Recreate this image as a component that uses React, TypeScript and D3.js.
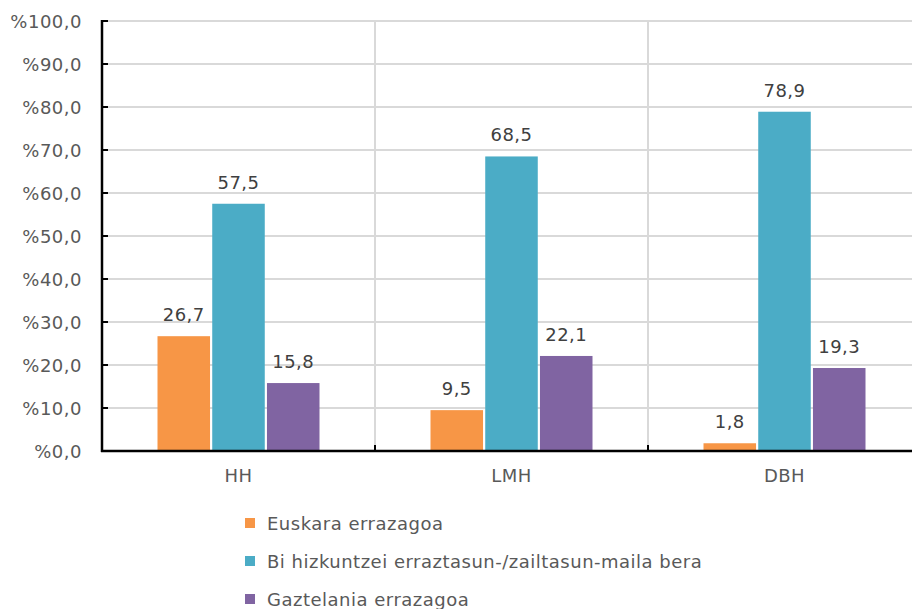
import React from "react";
import * as d3 from "d3";

const categories = ["HH", "LMH", "DBH"];
const seriesNames = [
  "Euskara errazagoa",
  "Bi hizkuntzei erraztasun-/zailtasun-maila bera",
  "Gaztelania errazagoa",
];
const euskara = [26.7, 9.5, 1.8];
const biak = [57.5, 68.5, 78.9];
const gaztelania = [15.8, 22.1, 19.3];
const yTicks = [0, 10, 20, 30, 40, 50, 60, 70, 80, 90, 100];
const colors = ["#F79646", "#4BACC6", "#8064A2"];

export default function App() {
  const W = 912, H = 609;
  const left = 102, right = 921, top = 21, bottom = 451;
  const series = [euskara, biak, gaztelania];
  const x = d3.scaleBand<string>().domain(categories).range([left, right]).paddingInner(0).paddingOuter(0);
  const inner = d3.scaleBand<number>().domain([0, 1, 2]).range([0, 162]).paddingInner(0.04);
  const y = d3.scaleLinear().domain([0, 100]).range([bottom, top]);
  const font = "DejaVu Sans, Verdana, sans-serif";
  const fmt = (v: number) => v.toFixed(1).replace(".", ",");
  const bw = x.bandwidth();
  const ls = 0.5;
  return (
    <svg width={W} height={H} style={{ position: "absolute", left: 0, top: 0, fontFamily: font }}>
      <rect width={W} height={H} fill="#fff" />
      {yTicks.slice(1).map((t) => (
        <line key={"g" + t} x1={left} x2={W} y1={y(t)} y2={y(t)} stroke="#D9D9D9" strokeWidth={2} />
      ))}
      {categories.slice(1).map((c) => (
        <line key={"v" + c} x1={x(c)!} x2={x(c)!} y1={top} y2={bottom} stroke="#D9D9D9" strokeWidth={2} />
      ))}
      {categories.map((c, ci) =>
        series.map((s, si) => {
          const bx = x(c)! + (bw - 162) / 2 + inner(si)!;
          return (
            <g key={c + si}>
              <rect x={bx} y={y(s[ci])} width={inner.bandwidth()} height={bottom - y(s[ci])} fill={colors[si]} />
              <text x={bx + inner.bandwidth() / 2} y={y(s[ci]) - 15} textAnchor="middle" fontSize={18} letterSpacing={ls} fill="#404040">
                {fmt(s[ci])}
              </text>
            </g>
          );
        })
      )}
      <line x1={left} x2={left} y1={top - 1} y2={bottom + 1} stroke="#000" strokeWidth={2.5} />
      <line x1={left - 1} x2={W} y1={bottom} y2={bottom} stroke="#000" strokeWidth={2.5} />
      {yTicks.map((t) => (
        <g key={"t" + t}>
          <line x1={left} x2={left + 6} y1={y(t)} y2={y(t)} stroke="#000" strokeWidth={2} />
          <text x={82} y={y(t) + 6.5} textAnchor="end" fontSize={18} letterSpacing={ls} fill="#595959">
            {"%" + fmt(t)}
          </text>
        </g>
      ))}
      {categories.slice(1).map((c) => (
        <line key={"xt" + c} x1={x(c)!} x2={x(c)!} y1={bottom} y2={bottom - 6} stroke="#000" strokeWidth={2} />
      ))}
      {categories.map((c) => (
        <text key={"xl" + c} x={x(c)! + bw / 2} y={482} textAnchor="middle" fontSize={18} letterSpacing={ls} fill="#595959">
          {c}
        </text>
      ))}
      {seriesNames.map((n, i) => (
        <g key={n}>
          <rect x={245} y={518 + i * 38} width={10} height={10} fill={colors[i]} />
          <text x={267} y={529.5 + i * 38} fontSize={18} letterSpacing={ls} fill="#595959">
            {n}
          </text>
        </g>
      ))}
    </svg>
  );
}
